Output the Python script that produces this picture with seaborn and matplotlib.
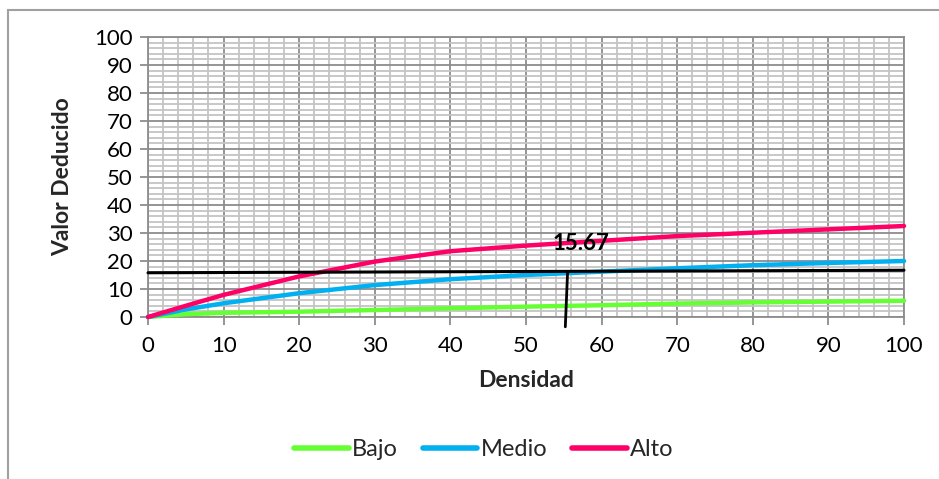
import matplotlib
matplotlib.use("Agg")
import matplotlib.pyplot as plt
from matplotlib.lines import Line2D
from matplotlib.patches import Rectangle
from matplotlib.ticker import MultipleLocator
import numpy as np
import pandas as pd
import seaborn as sns

# Deduct-value curves by density and severity level
densidad = [0, 5, 10, 20, 30, 40, 50, 60, 70, 80, 90, 100]
bajo = [0, 1.0, 1.5, 1.9, 2.5, 3.1, 3.7, 4.2, 4.8, 5.2, 5.5, 5.8]
medio = [0, 2.7, 4.9, 8.5, 11.4, 13.5, 15.0, 16.2, 17.4, 18.5, 19.3, 20.0]
alto = [0, 4.0, 7.9, 14.5, 19.8, 23.5, 25.5, 27.2, 28.9, 30.1, 31.3, 32.5]

series_names = ["Bajo", "Medio", "Alto"]
series_colors = ["#66FF33", "#00B0F0", "#FF0066"]

# Reading lines drawn over the curves
ref_line_x = [0, 100]
ref_line_y = [15.8, 16.7]
drop_line_x = [55.5, 55.2]
drop_line_y = [16.0, -3.5]
ref_label = "15.67"

x_ticks = list(range(0, 101, 10))
y_ticks = list(range(0, 101, 10))

df = pd.DataFrame({
    "Densidad": densidad * 3,
    "Valor": bajo + medio + alto,
    "Nivel": [n for n in series_names for _ in densidad],
})

sns.set_theme(style="white")
plt.rcParams["font.family"] = ["Lato", "DejaVu Sans"]

fig = plt.figure(figsize=(9.39, 4.79), dpi=100)
ax = fig.add_axes([148 / 939, 1 - 317 / 479, (904 - 148) / 939, (317 - 37) / 479])

# chart-area frame (only left and top edges fall inside the image)
fig.patches.append(Rectangle((8 / 939, -0.2), 1.2, 1 - 10 / 479 + 0.2,
                             transform=fig.transFigure, fill=False,
                             edgecolor="#A0A0A0", linewidth=1.5, zorder=0))

ax.set_xlim(0, 100)
ax.set_ylim(0, 100)
ax.xaxis.set_major_locator(MultipleLocator(10))
ax.yaxis.set_major_locator(MultipleLocator(10))
ax.xaxis.set_minor_locator(MultipleLocator(2))
ax.yaxis.set_minor_locator(MultipleLocator(2))
ax.grid(which="minor", color="#C4C4C4", linewidth=1.3)
ax.grid(which="major", color="#8C8C8C", linewidth=1.3)
ax.set_axisbelow(True)

sns.lineplot(data=df, x="Densidad", y="Valor", hue="Nivel",
             palette=dict(zip(series_names, series_colors)),
             linewidth=3.2, ax=ax, legend=False, clip_on=False, zorder=3)

ax.plot(ref_line_x, ref_line_y, color="black", linewidth=2.2, zorder=4, clip_on=False)
ax.plot(drop_line_x, drop_line_y, color="black", linewidth=2.0, zorder=4, clip_on=False)
ax.text(57.3, 26.2, ref_label, ha="center", va="center", fontsize=16,
        fontweight="bold", color="black", zorder=5)

for s in ax.spines.values():
    s.set_color("#8C8C8C")
    s.set_linewidth(1.3)

ax.set_xticks(x_ticks)
ax.set_yticks(y_ticks)
ax.tick_params(axis="both", which="major", direction="out", length=6,
               width=1.3, color="#8C8C8C", labelsize=16, labelcolor="black")
ax.tick_params(axis="x", which="major", pad=8)
ax.tick_params(axis="y", which="major", pad=5)
ax.tick_params(which="minor", length=0)
ax.tick_params(bottom=True, left=True)

ax.set_xlabel("Densidad", fontsize=16.5, fontweight="bold", labelpad=10)
ax.set_ylabel("Valor Deducido", fontsize=16.5, fontweight="bold", labelpad=15)

handles = [Line2D([0], [0], color=c, linewidth=4, solid_capstyle="round")
           for c in series_colors]
fig.legend(handles, series_names, loc="center", bbox_to_anchor=(484 / 939, 1 - 450 / 479),
           ncol=3, frameon=False, fontsize=17, handlelength=2.3,
           handletextpad=0.15, columnspacing=1.05)

fig.savefig("out.png", dpi=100)
